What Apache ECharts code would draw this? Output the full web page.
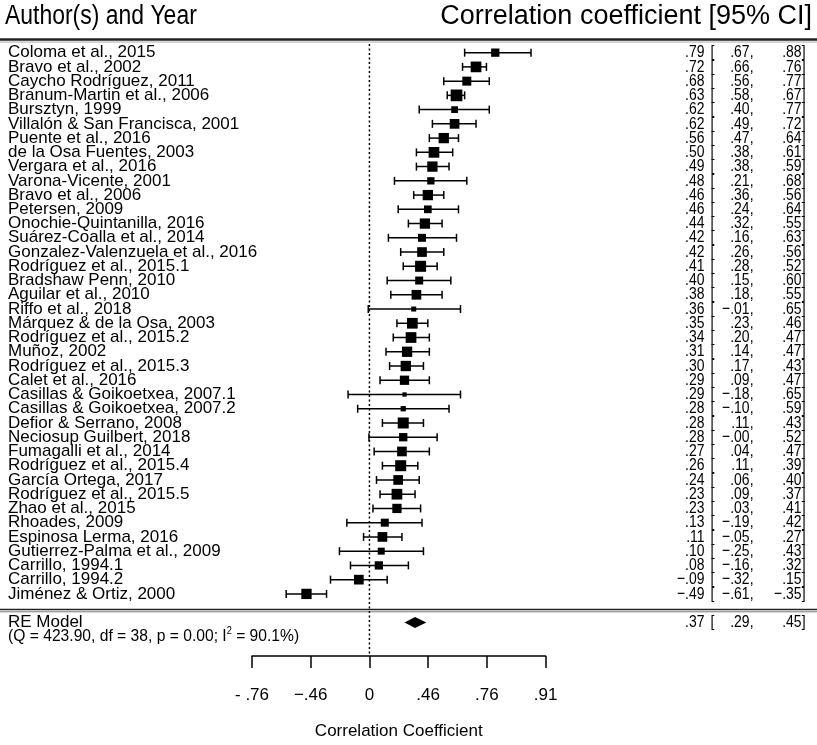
<!DOCTYPE html>
<html>
<head>
<meta charset="utf-8">
<script src="https://cdn.jsdelivr.net/npm/echarts@6/dist/echarts.min.js"></script>
<style>
html,body{margin:0;padding:0;background:#fff;}
#chart{width:817px;height:745px;}
</style>
</head>
<body>
<div id="chart"></div>
<script>
// ---------------- DATA ----------------
const studies = [
  "Coloma et al., 2015", "Bravo et al., 2002", "Caycho Rodríguez, 2011",
  "Branum-Martin et al., 2006", "Bursztyn, 1999", "Villalón & San Francisca, 2001",
  "Puente et al., 2016", "de la Osa Fuentes, 2003", "Vergara et al., 2016",
  "Varona-Vicente, 2001", "Bravo et al., 2006", "Petersen, 2009",
  "Onochie-Quintanilla, 2016", "Suárez-Coalla et al., 2014", "Gonzalez-Valenzuela et al., 2016",
  "Rodríguez et al., 2015.1", "Bradshaw Penn, 2010", "Aguilar et al., 2010",
  "Riffo et al., 2018", "Márquez & de la Osa, 2003", "Rodríguez et al., 2015.2",
  "Muñoz, 2002", "Rodríguez et al., 2015.3", "Calet et al., 2016",
  "Casillas & Goikoetxea, 2007.1", "Casillas & Goikoetxea, 2007.2", "Defior & Serrano, 2008",
  "Neciosup Guilbert, 2018", "Fumagalli et al., 2014", "Rodríguez et al., 2015.4",
  "García Ortega, 2017", "Rodríguez et al., 2015.5", "Zhao et al., 2015",
  "Rhoades, 2009", "Espinosa Lerma, 2016", "Gutierrez-Palma et al., 2009",
  "Carrillo, 1994.1", "Carrillo, 1994.2", "Jiménez & Ortiz, 2000"
];
const estimates = [
  0.79, 0.72, 0.68, 0.63, 0.62, 0.62, 0.56, 0.50, 0.49, 0.48,
  0.46, 0.46, 0.44, 0.42, 0.42, 0.41, 0.40, 0.38, 0.36, 0.35,
  0.34, 0.31, 0.30, 0.29, 0.29, 0.28, 0.28, 0.28, 0.27, 0.26,
  0.24, 0.23, 0.23, 0.13, 0.11, 0.10, 0.08, -0.09, -0.49
];
const lowerCI = [
  0.67, 0.66, 0.56, 0.58, 0.40, 0.49, 0.47, 0.38, 0.38, 0.21,
  0.36, 0.24, 0.32, 0.16, 0.26, 0.28, 0.15, 0.18, -0.01, 0.23,
  0.20, 0.14, 0.17, 0.09, -0.18, -0.10, 0.11, -0.004, 0.04, 0.11,
  0.06, 0.09, 0.03, -0.19, -0.05, -0.25, -0.16, -0.32, -0.61
];
const upperCI = [
  0.88, 0.76, 0.77, 0.67, 0.77, 0.72, 0.64, 0.61, 0.59, 0.68,
  0.56, 0.64, 0.55, 0.63, 0.56, 0.52, 0.60, 0.55, 0.65, 0.46,
  0.47, 0.47, 0.43, 0.47, 0.65, 0.59, 0.43, 0.52, 0.47, 0.39,
  0.40, 0.37, 0.41, 0.42, 0.27, 0.43, 0.32, 0.15, -0.35
];
const weights = [
  2.26, 2.92, 2.45, 3.19, 1.83, 2.64, 2.81, 2.92, 2.81, 1.99,
  2.81, 2.10, 2.81, 2.18, 2.64, 3.00, 2.18, 2.64, 1.36, 2.92,
  2.92, 2.81, 2.81, 2.53, 1.17, 1.44, 3.00, 2.26, 2.64, 3.00,
  2.64, 2.92, 2.53, 2.18, 2.64, 1.91, 2.26, 2.64, 2.81
];
const reModel = [0.37, 0.29, 0.45]; // estimate, lower, upper
const heteroQ = 423.90;
const heteroDf = 38;
const heteroP = 0.00;
const heteroI2 = 90.1;
const tickLabels = ["- .76", "−.46", "0", ".46", ".76", ".91"];

// ---------------- HELPERS ----------------
const FONT = '"Liberation Sans", Arial, sans-serif';
const SIZE_PER_WEIGHT = 3.67;
const NUM_SCALE = 0.82;
const fmt = v => (v < 0 ? '−' : '') + Math.abs(v).toFixed(2).replace(/^0/, '');
const z = r => Math.atanh(r);

function numTexts(y, est, lo, hi) {
  const base = {fill: '#000', font: '17px ' + FONT, textVerticalAlign: 'middle'};
  return [
    {type: 'text', x: 704.5, y: y, scaleX: NUM_SCALE,
      style: Object.assign({text: fmt(est), textAlign: 'right'}, base)},
    {type: 'text', x: 710.5, y: y, scaleX: NUM_SCALE,
      style: Object.assign({text: '[', textAlign: 'left'}, base)},
    {type: 'text', x: 753.5, y: y, scaleX: NUM_SCALE,
      style: Object.assign({text: fmt(lo) + ',', textAlign: 'right'}, base)},
    {type: 'text', x: 805.5, y: y, scaleX: NUM_SCALE,
      style: Object.assign({text: fmt(hi) + ']', textAlign: 'right'}, base)}
  ];
}

const studyData = studies.map((s, i) => [z(lowerCI[i]), z(upperCI[i]), z(estimates[i]), i, weights[i], i]);

function renderStudy(params, api) {
  const i = api.value(5);
  const row = api.value(3);
  const lo = api.coord([api.value(0), row]);
  const hi = api.coord([api.value(1), row]);
  const est = api.coord([api.value(2), row]);
  const y = est[1];
  const s = api.value(4) * SIZE_PER_WEIGHT;
  const cap = 4;
  const ls = {stroke: '#000', lineWidth: 1.5};
  const children = [
    {type: 'line', shape: {x1: lo[0], y1: y, x2: hi[0], y2: y}, style: ls},
    {type: 'line', shape: {x1: lo[0], y1: y - cap, x2: lo[0], y2: y + cap}, style: ls},
    {type: 'line', shape: {x1: hi[0], y1: y - cap, x2: hi[0], y2: y + cap}, style: ls},
    {type: 'rect', shape: {x: est[0] - s / 2, y: y - s / 2, width: s, height: s}, style: {fill: '#000'}},
    {type: 'text', x: 8, y: y,
      style: {text: studies[i], fill: '#000', font: '17px ' + FONT, textAlign: 'left', textVerticalAlign: 'middle'}}
  ].concat(numTexts(y, estimates[i], lowerCI[i], upperCI[i]));
  return {type: 'group', children: children};
}

function renderSummary(params, api) {
  const row = api.value(3);
  const lo = api.coord([api.value(0), row]);
  const hi = api.coord([api.value(1), row]);
  const est = api.coord([api.value(2), row]);
  const y = est[1];
  const h = 5.5;
  const children = [
    {type: 'polygon', shape: {points: [[lo[0], y], [est[0], y - h], [hi[0], y], [est[0], y + h]]},
      style: {fill: '#000'}},
    {type: 'text', x: 8, y: y,
      style: {text: 'RE Model', fill: '#000', font: '17px ' + FONT, textAlign: 'left', textVerticalAlign: 'middle'}},
    {type: 'text', x: 8, y: y + 13, scaleX: 0.92,
      style: {
        text: '{a|(Q = ' + heteroQ.toFixed(2) + ', df = ' + heteroDf + ', p = ' + heteroP.toFixed(2) + '; I}{s|2}{a| = ' + heteroI2.toFixed(1) + '%)}',
        textAlign: 'left', textVerticalAlign: 'middle',
        rich: {
          a: {fontSize: 17, fontFamily: FONT, fill: '#000', lineHeight: 18, verticalAlign: 'bottom'},
          s: {fontSize: 10, fontFamily: FONT, fill: '#000', lineHeight: 18, verticalAlign: 'top'}
        }
      }}
  ].concat(numTexts(y, reModel[0], reModel[1], reModel[2]));
  return {type: 'group', children: children};
}

const chart = echarts.init(document.getElementById('chart'), null, {renderer: 'canvas'});
chart.setOption({
  animation: false,
  backgroundColor: '#fff',
  grid: {left: 252, right: 271.4, top: 38.4, bottom: 87, containLabel: false},
  xAxis: {
    type: 'value', min: -1, max: 1.5, interval: 0.5, position: 'bottom',
    axisLine: {show: true, onZero: false, lineStyle: {color: '#000', width: 1.5}},
    axisTick: {show: true, inside: false, length: 12, lineStyle: {color: '#000', width: 1.5}},
    splitLine: {show: false},
    axisLabel: {
      color: '#000', fontSize: 17, fontFamily: FONT, margin: 31,
      formatter: v => tickLabels[Math.round((v + 1) / 0.5)]
    },
    name: 'Correlation Coefficient', nameLocation: 'middle', nameGap: 67,
    nameTextStyle: {color: '#000', fontSize: 17, fontFamily: FONT}
  },
  yAxis: {type: 'value', inverse: true, min: -1, max: 42.36, show: false},
  graphic: [
    {type: 'line', shape: {x1: 0, y1: 39.5, x2: 817, y2: 39.5}, style: {stroke: '#222', lineWidth: 2.5}},
    {type: 'line', shape: {x1: 0, y1: 42, x2: 817, y2: 42}, style: {stroke: '#aaa', lineWidth: 1}},
    {type: 'line', shape: {x1: 0, y1: 609.5, x2: 817, y2: 609.5}, style: {stroke: '#222', lineWidth: 1.5}},
    {type: 'line', shape: {x1: 0, y1: 611.8, x2: 817, y2: 611.8}, style: {stroke: '#777', lineWidth: 1}},
    {type: 'text', x: 5, y: 17, scaleX: 0.85,
      style: {text: 'Author(s) and Year', fill: '#000', font: '27px ' + FONT, textAlign: 'left', textVerticalAlign: 'middle'}},
    {type: 'text', x: 812, y: 17,
      style: {text: 'Correlation coefficient [95% CI]', fill: '#000', font: '27px ' + FONT, textAlign: 'right', textVerticalAlign: 'middle'}}
  ],
  series: [
    {
      type: 'line', silent: true, symbol: 'none',
      data: [[0, -0.6], [0, 42.36]],
      lineStyle: {color: '#000', width: 1.5, type: [2, 2.5]},
      z: 1
    },
    {type: 'custom', renderItem: renderStudy, data: studyData, silent: true, z: 3},
    {type: 'custom', renderItem: renderSummary, silent: true, z: 3,
      data: [[z(reModel[1]), z(reModel[2]), z(reModel[0]), 40]]}
  ]
});
</script>
</body>
</html>
